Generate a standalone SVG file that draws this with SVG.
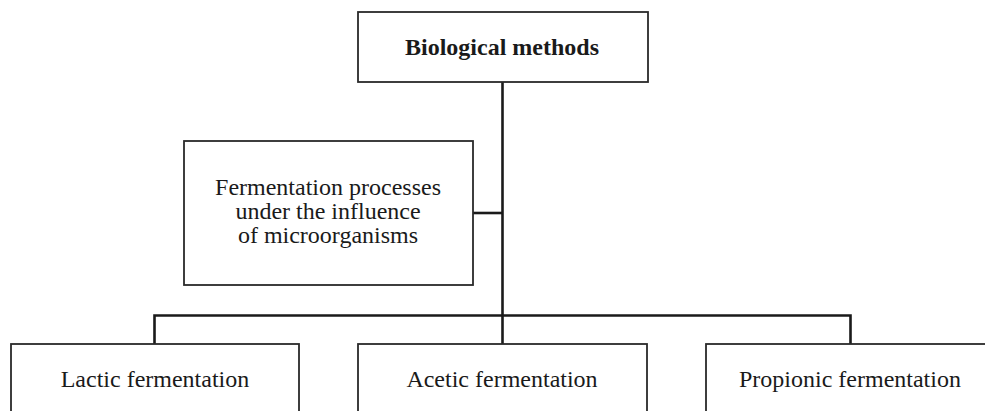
<svg xmlns="http://www.w3.org/2000/svg" width="985" height="411" viewBox="0 0 985 411">
<style>
.box{fill:#fff;stroke:#2a2a2a;stroke-width:1.8}
.conn{fill:none;stroke:#1a1a1a;stroke-width:2.6}
text{font-family:"Liberation Serif","Times New Roman",serif;font-size:24px;fill:#1a1a1a;text-anchor:middle}
.b{font-weight:bold}
</style>
<rect width="985" height="411" fill="#fff"/>
<g id="connectors">
<path class="conn" d="M502.5,82 V344"/>
<path class="conn" d="M473,213 H502.5"/>
<path class="conn" d="M154.5,344 V315.5 H850.5 V344"/>
</g>
<g id="node-biological">
<rect class="box" x="358" y="12" width="290" height="70"/>
<text class="b" x="502" y="55">Biological methods</text>
</g>
<g id="node-fermentation">
<rect class="box" x="184" y="141" width="289" height="144"/>
<text x="328" y="195">Fermentation processes</text>
<text x="328" y="219">under the influence</text>
<text x="328" y="243">of microorganisms</text>
</g>
<g id="node-lactic">
<rect class="box" x="11" y="344" width="288" height="80"/>
<text x="155" y="387">Lactic fermentation</text>
</g>
<g id="node-acetic">
<rect class="box" x="358" y="344" width="289" height="80"/>
<text x="502" y="387">Acetic fermentation</text>
</g>
<g id="node-propionic">
<rect class="box" x="706" y="344" width="289" height="80"/>
<text x="850" y="387">Propionic fermentation</text>
</g>
</svg>
